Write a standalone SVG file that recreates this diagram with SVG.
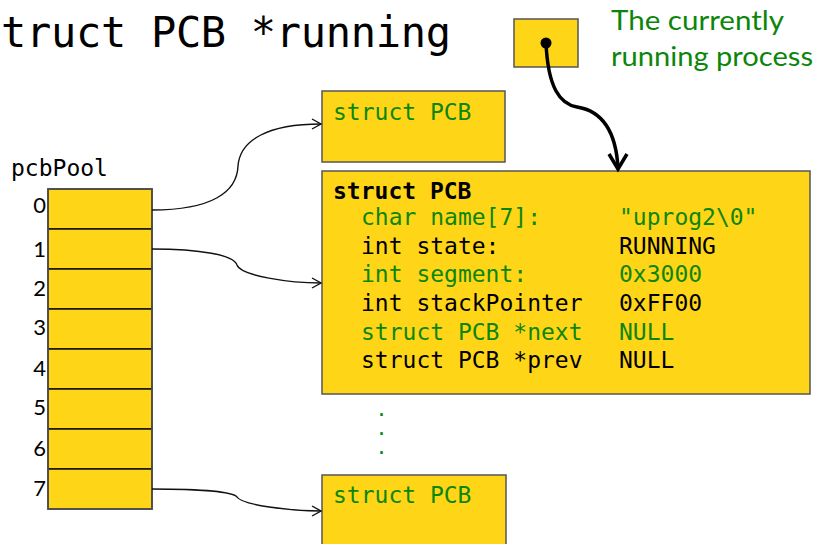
<svg xmlns="http://www.w3.org/2000/svg" width="821" height="544" viewBox="0 0 821 544">
<style>
.box{fill:#FFD617;stroke:#555;stroke-width:1.5}
.cell{fill:#FFD617;stroke:#111;stroke-width:1.5}
.mono{font-family:"DejaVu Sans Mono",monospace}
.g{fill:#0b860b}
.k{fill:#000}
.idx{font-family:"Lato","Noto Sans",sans-serif;font-size:22px;text-anchor:end}
.conn{fill:none;stroke:#111;stroke-width:1.4}
</style>
<defs>
<marker id="open" markerWidth="12" markerHeight="12" refX="10" refY="6" orient="auto" markerUnits="userSpaceOnUse">
<path d="M1,1 L10,6 L1,11" fill="none" stroke="#111" stroke-width="1.4"/>
</marker>
</defs>
<rect width="821" height="544" fill="#fff"/>
<text class="mono k" x="1" y="47" font-size="42" textLength="450" lengthAdjust="spacing">truct PCB *running</text>
<g id="running-ptr">
<rect class="box" x="514" y="19" width="64" height="48"/>
</g>
<g id="label">
<text class="g" x="611" y="30" font-family="Lato, 'Noto Sans', sans-serif" font-size="27" textLength="173" lengthAdjust="spacingAndGlyphs">The currently</text>
<text class="g" x="611" y="66" font-family="Lato, 'Noto Sans', sans-serif" font-size="27" textLength="202" lengthAdjust="spacingAndGlyphs">running process</text>
</g>
<g id="pcbPool">
<text class="mono k" x="11" y="176" font-size="23">pcbPool</text>
<rect class="cell" x="48" y="189" width="104" height="40"/>
<rect class="cell" x="48" y="229" width="104" height="40"/>
<rect class="cell" x="48" y="269" width="104" height="40"/>
<rect class="cell" x="48" y="309" width="104" height="40"/>
<rect class="cell" x="48" y="349" width="104" height="40"/>
<rect class="cell" x="48" y="389" width="104" height="40"/>
<rect class="cell" x="48" y="429" width="104" height="40"/>
<rect class="cell" x="48" y="469" width="104" height="40"/>
<rect x="48" y="189" width="104" height="320" fill="none" stroke="#555" stroke-width="1.5"/>
<text class="idx k" x="46" y="213">0</text>
<text class="idx k" x="46" y="257">1</text>
<text class="idx k" x="46" y="296">2</text>
<text class="idx k" x="46" y="335">3</text>
<text class="idx k" x="46" y="376">4</text>
<text class="idx k" x="46" y="415">5</text>
<text class="idx k" x="46" y="456">6</text>
<text class="idx k" x="46" y="496">7</text>
</g>
<g id="pcb-top">
<rect class="box" x="322" y="91" width="183" height="71"/>
<text class="mono g" x="333" y="120" font-size="23">struct PCB</text>
</g>
<g id="pcb-main">
<rect class="box" x="322" y="171" width="488" height="223"/>
<text class="mono k" x="333" y="199" font-size="23" font-weight="bold">struct PCB</text>
<text class="mono g" x="361" y="225" font-size="23">char name[7]:</text>
<text class="mono g" x="619" y="225" font-size="23">"uprog2\0"</text>
<text class="mono k" x="361" y="254" font-size="23">int state:</text>
<text class="mono k" x="619" y="254" font-size="23">RUNNING</text>
<text class="mono g" x="361" y="282" font-size="23">int segment:</text>
<text class="mono g" x="619" y="282" font-size="23">0x3000</text>
<text class="mono k" x="361" y="311" font-size="23">int stackPointer</text>
<text class="mono k" x="619" y="311" font-size="23">0xFF00</text>
<text class="mono g" x="361" y="340" font-size="23">struct PCB *next</text>
<text class="mono g" x="619" y="340" font-size="23">NULL</text>
<text class="mono k" x="361" y="368" font-size="23">struct PCB *prev</text>
<text class="mono k" x="619" y="368" font-size="23">NULL</text>
</g>
<g id="ellipsis">
<text class="mono g" x="377" y="416" font-size="15" font-weight="bold">.</text>
<text class="mono g" x="377" y="435" font-size="15" font-weight="bold">.</text>
<text class="mono g" x="377" y="454" font-size="15" font-weight="bold">.</text>
</g>
<g id="pcb-bottom">
<rect class="box" x="322" y="475" width="184" height="80"/>
<text class="mono g" x="333" y="503" font-size="23">struct PCB</text>
</g>
<g id="connectors">
<path class="conn" d="M152,210 C212,210 237,192 238,166 C240,140 268,124 321,124" marker-end="url(#open)"/>
<path class="conn" d="M152,249 C200,249 234,255 237,265 C241,276 290,283 321,283" marker-end="url(#open)"/>
<path class="conn" d="M152,489 C200,489 233,492 237,497 C242,505 290,511 321,511" marker-end="url(#open)"/>
<circle cx="546" cy="43" r="5.5" fill="#000"/>
<path d="M546,43 C548,88 560,104 577,107 C602,111 616,132 618,168" fill="none" stroke="#000" stroke-width="3.5"/>
<path d="M609,154 L618,169 L627,154" fill="none" stroke="#000" stroke-width="3.5"/>
</g>
</svg>
